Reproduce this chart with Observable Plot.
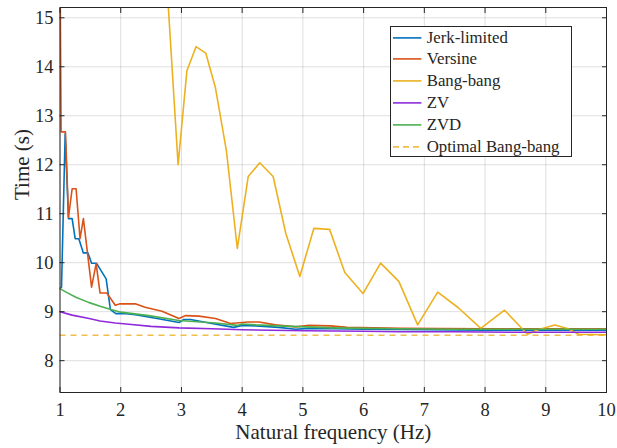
<!DOCTYPE html>
<html>
<head>
<meta charset="utf-8">
<script src="https://cdn.jsdelivr.net/npm/d3@7"></script>
<script src="https://cdn.jsdelivr.net/npm/@observablehq/plot@0.6"></script>
<style>
  html, body { margin: 0; padding: 0; background: #fff; }
  #chart { position: relative; width: 617px; height: 448px; font-family: "Liberation Serif", "Times New Roman", serif; color: #262626; }
  #chart svg { display: block; }
  .legend { position: absolute; left: 390px; top: 25.7px; width: 182px; height: 131px; box-sizing: border-box;
            border: 1px solid #262626; background: #fff; }
  .legend .row { position: absolute; left: 0; height: 21.8px; line-height: 21.8px; font-size: 16.8px; white-space: nowrap; }
  .legend .row svg { position: absolute; left: 2.3px; top: 0; }
  .legend .row span { position: absolute; left: 35.7px; top: 0; }
</style>
</head>
<body>
<div id="chart"></div>
<script>
// Axis ticks and titles
const freqTicks = [1, 2, 3, 4, 5, 6, 7, 8, 9, 10];
const timeTicks = [8, 9, 10, 11, 12, 13, 14, 15];
const xTitle = "Natural frequency (Hz)";
const yTitle = "Time (s)";

// Jerk-limited
const jerkFreq = [1.00, 1.025, 1.085, 1.14, 1.20, 1.25, 1.31, 1.385, 1.46, 1.52, 1.60, 1.76, 1.83, 1.92, 2.09, 2.24, 2.60, 2.96, 3.04, 3.15, 3.50, 3.86, 4.00, 4.23, 4.60, 4.88, 5.10, 5.50, 6.00, 7.00, 8.00, 10.00];
const jerkTime = [9.47, 9.50, 12.63, 10.90, 10.90, 10.49, 10.49, 10.20, 10.20, 9.99, 9.99, 9.67, 9.04, 8.96, 8.96, 8.94, 8.86, 8.78, 8.84, 8.84, 8.76, 8.68, 8.72, 8.71, 8.68, 8.64, 8.66, 8.65, 8.64, 8.63, 8.62, 8.62];

// Versine
const versFreq = [1.00, 1.018, 1.09, 1.14, 1.20, 1.265, 1.33, 1.385, 1.52, 1.595, 1.66, 1.77, 1.91, 1.99, 2.24, 2.40, 2.68, 2.96, 3.07, 3.29, 3.56, 3.81, 4.09, 4.28, 4.55, 4.88, 5.10, 5.45, 5.73, 6.60, 8.00, 10.00];
const versTime = [16.2, 12.67, 12.67, 10.93, 11.51, 11.51, 10.49, 10.90, 9.50, 9.98, 9.38, 9.38, 9.13, 9.16, 9.16, 9.09, 9.01, 8.86, 8.92, 8.91, 8.86, 8.76, 8.79, 8.79, 8.73, 8.69, 8.72, 8.71, 8.68, 8.66, 8.65, 8.65];

// Bang-bang
const bangFreq = [2.77, 2.945, 3.09, 3.24, 3.40, 3.56, 3.74, 3.92, 4.10, 4.29, 4.51, 4.72, 4.95, 5.18, 5.44, 5.69, 5.99, 6.28, 6.58, 6.89, 7.22, 7.56, 7.93, 8.32, 8.70, 8.87, 9.15, 9.37, 9.54, 10.00];
const bangTime = [15.5, 12.00, 13.92, 14.41, 14.28, 13.57, 12.29, 10.29, 11.76, 12.04, 11.76, 10.59, 9.72, 10.70, 10.68, 9.80, 9.37, 9.99, 9.62, 8.73, 9.40, 9.08, 8.66, 9.03, 8.54, 8.63, 8.73, 8.65, 8.54, 8.53];

// ZV
const zvFreq = [1.0, 1.2, 1.48, 1.66, 1.91, 2.09, 2.5, 2.96, 3.5, 4.0, 5.05, 6.0, 6.6, 7.5, 8.5, 10.0];
const zvTime = [9.00, 8.93, 8.86, 8.81, 8.77, 8.75, 8.70, 8.67, 8.65, 8.63, 8.61, 8.60, 8.59, 8.59, 8.58, 8.58];

// ZVD
const zvdFreq = [1.0, 1.1, 1.27, 1.47, 1.66, 1.91, 2.0, 2.46, 2.96, 3.56, 3.92, 4.0, 4.23, 4.6, 5.05, 5.5, 6.0, 6.6, 7.5, 8.5, 10.0];
const zvdTime = [9.47, 9.40, 9.29, 9.19, 9.11, 9.02, 8.99, 8.92, 8.82, 8.77, 8.72, 8.75, 8.73, 8.71, 8.69, 8.67, 8.66, 8.65, 8.64, 8.64, 8.64];

// Optimal Bang-bang (constant bound)
const optimalTime = 8.52;

const seriesNames = ["Jerk-limited", "Versine", "Bang-bang", "ZV", "ZVD", "Optimal Bang-bang"];
const seriesColors = ["#0072BD", "#D95319", "#EDB120", "#8F2BDB", "#4CAF50", "#F2BE4A"];

const curves = [
  [jerkFreq, jerkTime],
  [versFreq, versTime],
  [bangFreq, bangTime],
  [zvFreq, zvTime],
  [zvdFreq, zvdTime]
].map(([f, t], i) => ({
  color: seriesColors[i],
  rows: f.map((x, k) => ({freq: x, time: t[k]}))
}));

const axisColor = "#262626";

const plot = Plot.plot({
  width: 617,
  height: 448,
  marginLeft: 59.5,
  marginRight: 11,
  marginTop: 7,
  marginBottom: 56,
  x: {domain: [1, 10]},
  y: {domain: [7.35, 15.21]},
  style: {fontFamily: "'Liberation Serif', 'Times New Roman', serif", fontSize: "18.5px", color: axisColor, background: "white"},
  marks: [
    Plot.gridX(freqTicks, {stroke: axisColor, strokeOpacity: 0.15}),
    Plot.gridY(timeTicks, {stroke: axisColor, strokeOpacity: 0.15}),
    Plot.ruleY([optimalTime], {stroke: seriesColors[5], strokeWidth: 1.5, strokeDasharray: "6,5"}),
    ...curves.map(c => Plot.line(c.rows, {x: "freq", y: "time", stroke: c.color, strokeWidth: 1.6, clip: true})),
    Plot.frame({stroke: axisColor, strokeWidth: 1}),
    Plot.axisX(freqTicks, {anchor: "bottom", tickSize: -5, tickPadding: 15.5, label: null, stroke: axisColor}),
    Plot.axisX(freqTicks, {anchor: "top", tickSize: -5, tickFormat: () => "", label: null, stroke: axisColor}),
    Plot.axisY(timeTicks, {anchor: "left", tickSize: -5, tickPadding: 11.5, label: null, stroke: axisColor}),
    Plot.axisY(timeTicks, {anchor: "right", tickSize: -5, tickFormat: () => "", label: null, stroke: axisColor}),
    Plot.text([xTitle], {frameAnchor: "bottom", dy: 46, fontSize: 21, fill: axisColor}),
    Plot.text([yTitle], {frameAnchor: "left", dx: -38, rotate: -90, fontSize: 21, fill: axisColor})
  ]
});

const chart = document.getElementById("chart");
chart.appendChild(plot);

// Legend box inside the axes, upper right
const legend = document.createElement("div");
legend.className = "legend";
seriesNames.forEach((name, i) => {
  const row = document.createElement("div");
  row.className = "row";
  row.style.top = (i * 21.8) + "px";
  const dash = i === 5 ? ' stroke-dasharray="6,4"' : "";
  row.innerHTML = `<svg width="29" height="21.8"><line x1="0" x2="28.4" y1="10.9" y2="10.9" stroke="${seriesColors[i]}" stroke-width="1.6"${dash}/></svg><span>${name}</span>`;
  legend.appendChild(row);
});
chart.appendChild(legend);
</script>
</body>
</html>
